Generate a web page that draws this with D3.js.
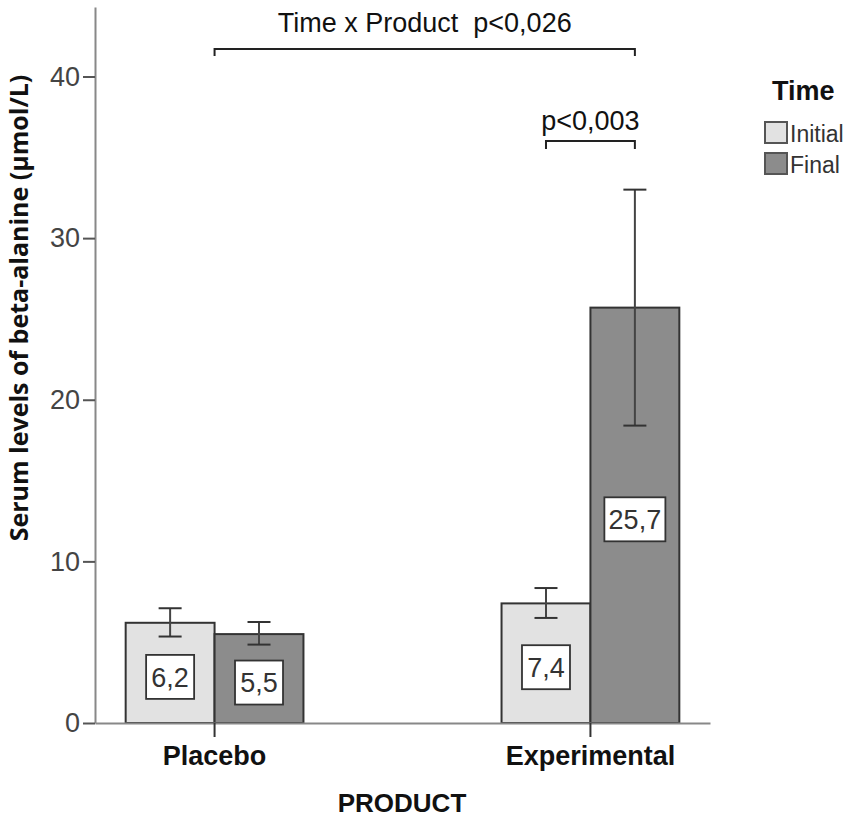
<!DOCTYPE html>
<html>
<head>
<meta charset="utf-8">
<script src="https://cdn.jsdelivr.net/npm/d3@7"></script>
<style>
  html, body { margin: 0; padding: 0; background: #fff; }
  svg { display: block; }
</style>
</head>
<body>
<svg id="chart" width="851" height="821"></svg>
<script>
// ---- data ----
const categories = ["Placebo", "Experimental"];
const times = ["Initial", "Final"];
const initialMeans = [6.2, 7.4];
const finalMeans = [5.5, 25.7];
const initialLow = [5.35, 6.5];
const initialHigh = [7.1, 8.35];
const finalLow = [4.85, 18.4];
const finalHigh = [6.25, 33.0];
const yTicks = [0, 10, 20, 30, 40];
const interactionLabel = "Time x Product\u00a0\u00a0p<0,026";
const pairLabel = "p<0,003";
const yTitle = "Serum levels of beta-alanine (\u00b5mol/L)";
const xTitle = "PRODUCT";
const legendTitle = "Time";
const colors = ["#e2e2e2", "#8c8c8c"];

(function () {
const rows = [];
categories.forEach((c, i) => {
  rows.push({cat: c, time: "Initial", v: initialMeans[i], lo: initialLow[i], hi: initialHigh[i]});
  rows.push({cat: c, time: "Final", v: finalMeans[i], lo: finalLow[i], hi: finalHigh[i]});
});
const fmt = v => d3.format(".1f")(v).replace(".", ",");

// ---- layout ----
const svg = d3.select("#chart");
const mLeft = 95, mRight = 710, mTop = 7, mBottom = 723;

const x = d3.scaleBand().domain(categories).range([mLeft, mRight])
  .paddingInner(0.527).paddingOuter(0.0816);
const xt = d3.scaleBand().domain(times).range([0, x.bandwidth()]).padding(0);
const y = d3.scaleLinear().domain([0, 44.3]).range([mBottom, mTop]);
const color = d3.scaleOrdinal().domain(times).range(colors);

// bars
const g = svg.append("g");
g.selectAll("rect.bar").data(rows).join("rect")
  .attr("class", "bar")
  .attr("x", d => x(d.cat) + xt(d.time))
  .attr("y", d => y(d.v))
  .attr("width", xt.bandwidth())
  .attr("height", d => y(0) - y(d.v))
  .attr("fill", d => color(d.time))
  .attr("stroke", "#333")
  .attr("stroke-width", 2);

// axes
const yAxis = svg.append("g").attr("transform", `translate(${mLeft},0)`)
  .call(d3.axisLeft(y).tickValues(yTicks).tickSize(12).tickSizeOuter(0).tickPadding(3));
yAxis.select(".domain").attr("stroke", "#888").attr("stroke-width", 2);
yAxis.selectAll(".tick line").attr("stroke", "#555").attr("stroke-width", 2);
yAxis.selectAll(".tick text").attr("font-family", "Liberation Sans, Arial, sans-serif")
  .attr("font-size", 27).attr("fill", "#444");

const xAxis = svg.append("g").attr("transform", `translate(0,${mBottom})`)
  .call(d3.axisBottom(x).tickSize(14).tickSizeOuter(0).tickPadding(9));
xAxis.select(".domain").attr("stroke", "#888").attr("stroke-width", 2);
xAxis.selectAll(".tick line").attr("stroke", "#333").attr("stroke-width", 2);
xAxis.selectAll(".tick text").attr("font-family", "Liberation Sans, Arial, sans-serif")
  .attr("font-size", 27).attr("font-weight", "bold").attr("fill", "#111");

// error bars
const cap = 11.5;
const eb = svg.append("g").attr("stroke", "#333").attr("stroke-width", 2);
rows.forEach(d => {
  const cx = x(d.cat) + xt(d.time) + xt.bandwidth() / 2;
  eb.append("line").attr("x1", cx).attr("x2", cx).attr("y1", y(d.lo)).attr("y2", y(d.hi)).attr("stroke", "#444");
  eb.append("line").attr("x1", cx - cap).attr("x2", cx + cap).attr("y1", y(d.hi)).attr("y2", y(d.hi));
  eb.append("line").attr("x1", cx - cap).attr("x2", cx + cap).attr("y1", y(d.lo)).attr("y2", y(d.lo));
});

// value labels
const lbl = svg.append("g");
rows.forEach(d => {
  const cx = x(d.cat) + xt(d.time) + xt.bandwidth() / 2;
  const cy = y(d.v / 2) + 4;
  const t = fmt(d.v);
  const w = t.length * 13 + 9;
  lbl.append("rect").attr("x", cx - w / 2).attr("y", cy - 22).attr("width", w).attr("height", 44)
    .attr("fill", "#fff").attr("stroke", "#333").attr("stroke-width", 1.8);
  lbl.append("text").attr("x", cx).attr("y", cy).attr("dy", "0.36em")
    .attr("text-anchor", "middle").attr("font-family", "Liberation Sans, Arial, sans-serif")
    .attr("font-size", 27).attr("fill", "#333").text(t);
});

// brackets
function bracket(x1, x2, yy, drop, label, textY) {
  const b = svg.append("g");
  b.append("path").attr("d", `M${x1},${yy + drop}V${yy}H${x2}V${yy + drop}`)
    .attr("fill", "none").attr("stroke", "#222").attr("stroke-width", 2);
  b.append("text").attr("x", (x1 + x2) / 2).attr("y", textY).attr("text-anchor", "middle")
    .attr("font-family", "Liberation Sans, Arial, sans-serif").attr("font-size", 27).attr("fill", "#111")
    .text(label);
}
const cPl = x("Placebo") + x.bandwidth() / 2;
const cExI = x("Experimental") + xt("Initial") + xt.bandwidth() / 2;
const cExF = x("Experimental") + xt("Final") + xt.bandwidth() / 2;
bracket(cPl, cExF, 49, 7, interactionLabel, 32);
bracket(cExI, cExF, 141, 8, pairLabel, 130);

// axis titles
svg.append("text").attr("transform", `translate(28,308) rotate(-90)`)
  .attr("text-anchor", "middle").attr("font-family", "Open Sans, sans-serif")
  .attr("font-weight", "bold").attr("font-size", 25).attr("fill", "#111").text(yTitle);
svg.append("text").attr("x", 402).attr("y", 812).attr("text-anchor", "middle")
  .attr("font-family", "Liberation Sans, Arial, sans-serif").attr("font-weight", "bold")
  .attr("font-size", 26).attr("fill", "#111").text(xTitle);

// legend
const lg = svg.append("g");
lg.append("text").attr("x", 772).attr("y", 100).attr("font-family", "Liberation Sans, Arial, sans-serif")
  .attr("font-weight", "bold").attr("font-size", 27).attr("fill", "#111").text(legendTitle);
times.forEach((t, i) => {
  lg.append("rect").attr("x", 765).attr("y", 122 + i * 31).attr("width", 22).attr("height", 21)
    .attr("fill", color(t)).attr("stroke", "#555").attr("stroke-width", 2);
  lg.append("text").attr("x", 790).attr("y", 142 + i * 31).attr("font-family", "Liberation Sans, Arial, sans-serif")
    .attr("font-size", 23).attr("fill", "#333").text(t);
});
})();
</script>
</body>
</html>
